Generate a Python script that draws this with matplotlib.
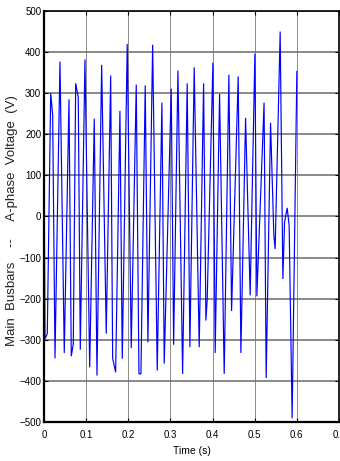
import matplotlib
matplotlib.use("Agg")
import matplotlib.pyplot as plt
import numpy as np

# A-phase voltage on the main busbars, sampled vertices (time in s, voltage in V)
time_s = [0.0000, 0.0024, 0.0078, 0.0159, 0.0206, 0.0261, 0.0379, 0.0481, 0.0593,
          0.0647, 0.0695, 0.0752, 0.0813, 0.0861, 0.0972, 0.1084, 0.1193, 0.1257,
          0.1368, 0.1477, 0.1582, 0.1629, 0.1700, 0.1802, 0.1857, 0.1975, 0.2070,
          0.2189, 0.2253, 0.2300, 0.2402, 0.2466, 0.2578, 0.2687, 0.2798, 0.2853,
          0.3019, 0.3076, 0.3178, 0.3289, 0.3398, 0.3462, 0.3564, 0.3683, 0.3787,
          0.3842, 0.3873, 0.4008, 0.4062, 0.4166, 0.4276, 0.4387, 0.4451, 0.4608,
          0.4672, 0.4783, 0.4892, 0.5004, 0.5051, 0.5222, 0.5272, 0.5376, 0.5454,
          0.5485, 0.5604, 0.5668, 0.5708, 0.5770, 0.5817, 0.5888, 0.6000]
voltage_v = [160, -298, -285, 300, 246, -345, 377, -332, 285,
             -340, -310, 324, 290, -324, 382, -367, 238, -387,
             369, -285, 343, -345, -379, 257, -346, 420, -320,
             321, -383, -383, 319, -306, 418, -375, 277, -358,
             311, -312, 355, -383, 324, -318, 363, -318, 324,
             -253, -200, 374, -332, 298, -383, 345, -230, 341,
             -332, 240, -192, 396, -194, 277, -393, 228, -46,
             -79, 450, -152, -14, 21, -22, -491, 353]

x_ticks = [0, 0.1, 0.2, 0.3, 0.4, 0.5, 0.6, 0.7]
x_tick_labels = ["0", "0.1", "0.2", "0.3", "0.4", "0.5", "0.6", "0.7"]
y_ticks = [-500, -400, -300, -200, -100, 0, 100, 200, 300, 400, 500]

plt.rcParams["font.family"] = ["Liberation Sans", "DejaVu Sans"]

W, H = 340, 461
fig = plt.figure(figsize=(W / 100, H / 100), dpi=100)
ax = fig.add_axes([44 / W, 1 - 422 / H, 295 / W, 411 / H])

ax.plot(time_s, voltage_v, color="#0000ff", lw=0.85, solid_joinstyle="miter")

ax.set_xlim(0, 0.7)
ax.set_ylim(-500, 500)
ax.set_xticks(x_ticks)
ax.set_xticklabels(x_tick_labels)
ax.set_yticks(y_ticks)

ax.yaxis.grid(True, color="#6a6a6a", lw=1.1, ls="-")
ax.xaxis.grid(True, color="#8a8a8a", lw=0.7, ls="-")
ax.set_axisbelow(True)

ax.tick_params(direction="in", length=3, width=0.8, top=True, right=True,
               labelsize=7, colors="black")
ax.tick_params(axis="x", pad=6)
ax.tick_params(axis="y", pad=2)

for side in ["left", "bottom"]:
    ax.spines[side].set_linewidth(1.6)
for side in ["top", "right"]:
    ax.spines[side].set_linewidth(1.2)

ax.set_ylabel("Main  Busbars    --     A-phase  Voltage  (V)", fontsize=9.5,
              color="#222222")
ax.yaxis.set_label_coords(-0.088, 0.49)
ax.set_xlabel("Time (s)", fontsize=7.5)
ax.xaxis.set_label_coords(0.5, -0.058)

fig.savefig("out.png", dpi=100)
